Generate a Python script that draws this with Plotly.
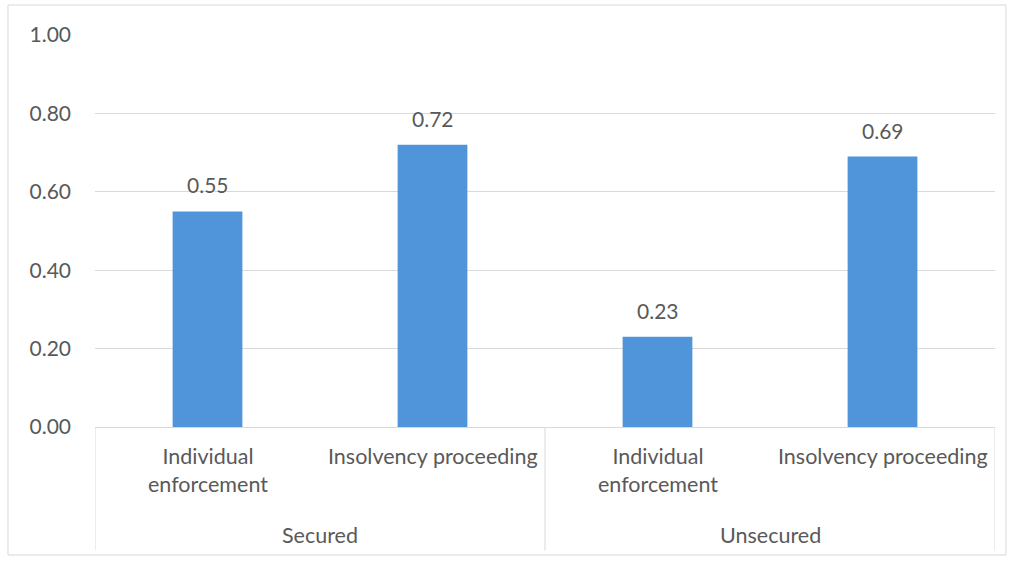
import plotly.graph_objects as go

# Recovery rates by claim type and enforcement route
groups = ["Secured", "Secured", "Unsecured", "Unsecured"]
routes = ["Individual<br>enforcement", "Insolvency proceeding",
          "Individual<br>enforcement", "Insolvency proceeding"]
values = [0.55, 0.72, 0.23, 0.69]
y_ticks = [0.0, 0.2, 0.4, 0.6, 0.8, 1.0]

keys = [f"{g}|{r}" for g, r in zip(groups, routes)]

FONT = "Lato, Carlito, 'Open Sans', sans-serif"
TXT = "#595959"
GRID = "#D9D9D9"
BAR = "#5095DA"

fig = go.Figure()
fig.add_trace(go.Bar(
    x=keys, y=values, marker=dict(color=BAR, line=dict(width=0)),
    width=0.31, hoverinfo="skip", showlegend=False,
))

# value labels above bars
for k, v in zip(keys, values):
    fig.add_annotation(x=k, y=v, text=f"{v:.2f}", showarrow=False,
                       yanchor="bottom", yshift=12,
                       font=dict(size=21, color=TXT, family=FONT))

# first-level category labels
for k, r in zip(keys, routes):
    fig.add_annotation(x=k, y=-0.035, yref="paper", text=r, showarrow=False,
                       yanchor="top", align="center",
                       font=dict(size=21.5, color=TXT, family=FONT))

# group labels, centred under each pair
group_names = list(dict.fromkeys(groups))
for i, g in enumerate(group_names):
    fig.add_annotation(x=2 * i + 0.5, y=-0.275, yref="paper", text=g,
                       showarrow=False, yanchor="middle",
                       font=dict(size=21.5, color=TXT, family=FONT))

# group dividers
for xd in [-0.5, 1.5, 3.5]:
    fig.add_shape(type="line", xref="x", yref="paper", x0=xd, x1=xd,
                  y0=0, y1=-0.315, line=dict(color=GRID, width=1))

# chart border
fig.add_shape(type="rect", xref="paper", yref="paper",
              x0=-0.0967, x1=1.0122, y0=-0.3265, y1=1.0765,
              line=dict(color=GRID, width=1), fillcolor="rgba(0,0,0,0)")

fig.update_layout(
    width=1014, height=563,
    margin=dict(l=95, r=19, t=35, b=136),
    paper_bgcolor="white", plot_bgcolor="white",
    bargap=0.69,
    font=dict(family=FONT, color=TXT),
    xaxis=dict(type="category", categoryorder="array", categoryarray=keys,
               range=[-0.5, 3.5], showticklabels=False, showgrid=False,
               zeroline=False, showline=False, ticks=""),
    yaxis=dict(range=[0, 1.0], tickvals=y_ticks, tickformat=".2f",
               showgrid=True, gridcolor=GRID, gridwidth=1,
               zeroline=True, zerolinecolor=GRID, zerolinewidth=1,
               showline=False, ticks="", ticklabelstandoff=23,
               tickfont=dict(size=21, color=TXT, family=FONT)),
)

fig.write_html("out.html")
